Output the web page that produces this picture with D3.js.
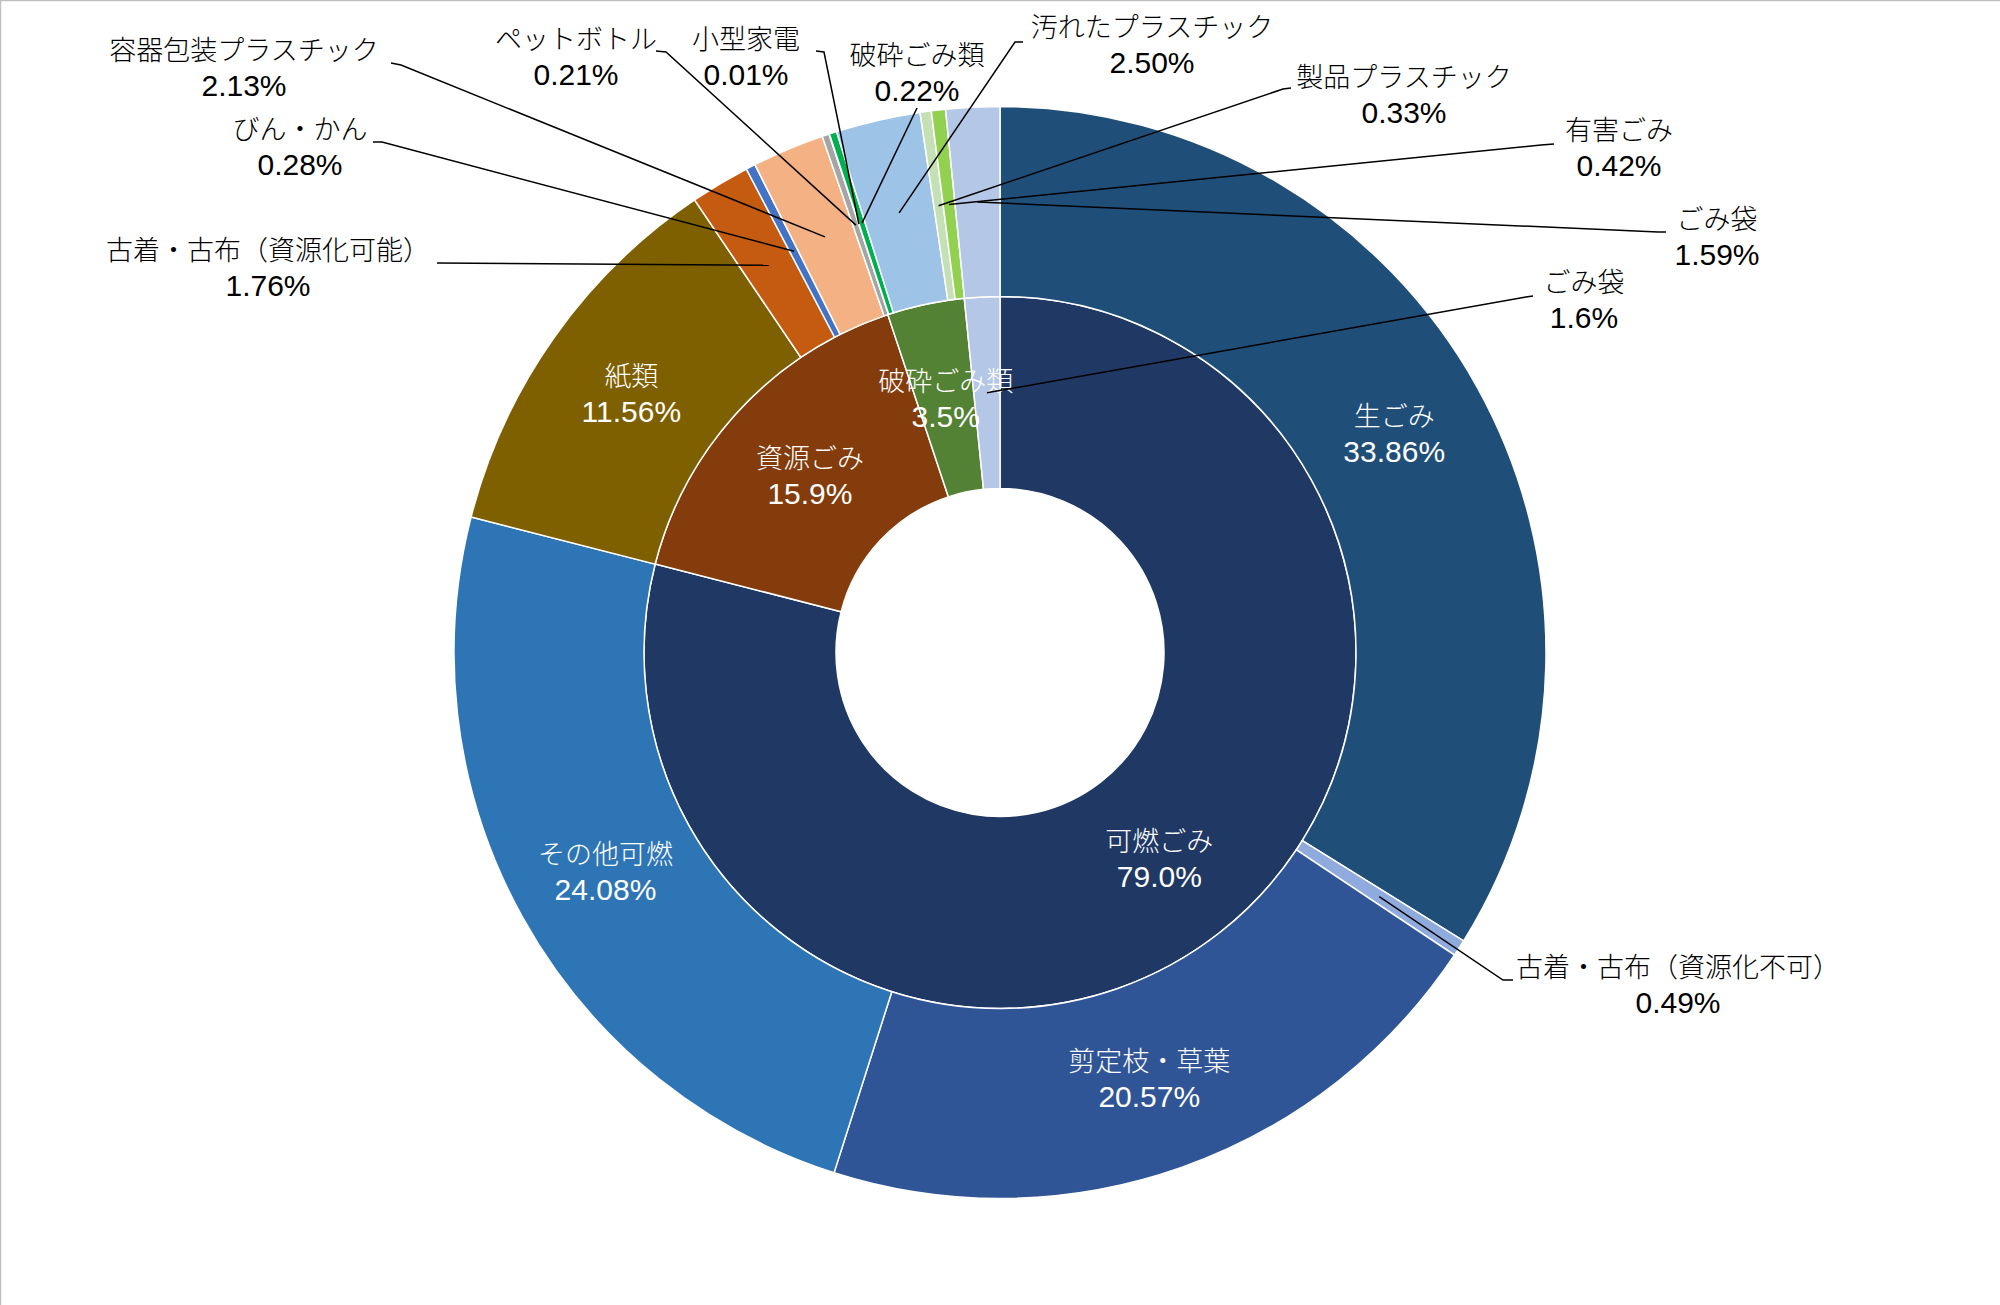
<!DOCTYPE html>
<html>
<head>
<meta charset="utf-8">
<script src="https://cdn.jsdelivr.net/npm/d3@7"></script>
<style>
  html, body { margin: 0; padding: 0; background: #fff; }
</style>
</head>
<body>
<svg width="2000" height="1305"></svg>
<script>
// inner ring (大分類)
var innerCategories = ["可燃ごみ", "資源ごみ", "破砕ごみ類", "ごみ袋"];
var innerValues = [79.0, 15.9, 3.5, 1.6];

// outer ring (内訳), clockwise from 12 o'clock
var outerCategories = [
  "生ごみ", "古着・古布（資源化不可）", "剪定枝・草葉", "その他可燃",
  "紙類", "古着・古布（資源化可能）", "びん・かん", "容器包装プラスチック",
  "ペットボトル", "小型家電",
  "破砕ごみ類", "汚れたプラスチック", "製品プラスチック", "有害ごみ",
  "ごみ袋"
];
var outerValues = [33.86, 0.49, 20.57, 24.08, 11.56, 1.76, 0.28, 2.13, 0.21, 0.01, 0.22, 2.50, 0.33, 0.42, 1.59];

var innerColors = ["#203864", "#843C0C", "#548235", "#B4C7E7"];
var outerColors = [
  "#1F4E79", "#8FAADC", "#2F5597", "#2E75B6",
  "#7F6000", "#C55A11", "#4472C4", "#F4B183",
  "#A5A5A5", "#FFC000",
  "#00B050", "#9DC3E6", "#C5E0B4", "#92D050",
  "#B4C7E7"
];

// labels drawn inside the ring (index lists)
var innerInside = [0, 1, 2];
var outerInside = [0, 2, 3, 4];

// outside labels: [ring, index, text x, first line y, leader start x, y, elbow x, y]
var outsideLabels = [
  ["outer", 7, 244, 48, 391, 63, 401, 65],
  ["outer", 6, 300, 127, 373, 142, 382, 142],
  ["outer", 5, 268, 248, 437, 263, 437, 263],
  ["outer", 8, 576, 37, 656, 51, 666, 52],
  ["outer", 9, 746, 37, 816, 51, 824, 52],
  ["outer", 10, 917, 53, 917, 108, 917, 108],
  ["outer", 11, 1152, 25, 1023, 42, 1015, 42],
  ["outer", 12, 1404, 75, 1291, 88, 1283, 89],
  ["outer", 13, 1619, 128, 1554, 144, 1541, 145],
  ["outer", 14, 1717, 217, 1666, 232, 1658, 232],
  ["inner", 3, 1584, 280, 1533, 296, 1526, 297],
  ["outer", 1, 1678, 965, 1513, 980, 1503, 980]
];

var svg = d3.select("svg"),
    cx = 1000, cy = 652.5,
    r0 = 164, r1 = 356, r2 = 546,
    lineGap = 37;

var jpFont = "'Noto Sans CJK JP', 'Noto Sans', sans-serif",
    numFont = "'Liberation Sans', Arial, sans-serif";

// frame edges
svg.append("line").attr("x1", 0).attr("x2", 2000).attr("y1", 0.5).attr("y2", 0.5)
    .attr("stroke", "#c0c0c0").attr("stroke-width", 1.5);
svg.append("line").attr("x1", 0.5).attr("x2", 0.5).attr("y1", 0).attr("y2", 1305)
    .attr("stroke", "#c0c0c0").attr("stroke-width", 1.5);

var g = svg.append("g").attr("transform", "translate(" + cx + "," + cy + ")");

var pie = d3.pie().sort(null).value(function(d) { return d; });
var innerArcs = pie(innerValues),
    outerArcs = pie(outerValues);

var innerArc = d3.arc().innerRadius(r0).outerRadius(r1),
    outerArc = d3.arc().innerRadius(r1).outerRadius(r2);

g.selectAll(".inner")
    .data(innerArcs)
    .enter()
    .append("path")
    .attr("class", "inner")
    .attr("d", innerArc)
    .attr("fill", function(d, i) { return innerColors[i]; })
    .attr("stroke", "#fff")
    .attr("stroke-width", 1.5);

g.selectAll(".outer")
    .data(outerArcs)
    .enter()
    .append("path")
    .attr("class", "outer")
    .attr("d", outerArc)
    .attr("fill", function(d, i) { return outerColors[i]; })
    .attr("stroke", "#fff")
    .attr("stroke-width", 1.5);

function pct(ring, i) {
  return ring == "inner" ? innerValues[i].toFixed(1) + "%" : outerValues[i].toFixed(2) + "%";
}

function twoLines(sel, x, y, name, num, color) {
  var t = sel.append("text")
      .attr("text-anchor", "middle")
      .attr("fill", color);
  t.append("tspan")
      .attr("x", x).attr("y", y)
      .attr("dominant-baseline", "central")
      .attr("font-family", jpFont)
      .attr("font-weight", 300)
      .attr("font-size", 27)
      .text(name);
  t.append("tspan")
      .attr("x", x).attr("y", y + lineGap)
      .attr("dominant-baseline", "central")
      .attr("font-family", numFont)
      .attr("font-size", 30)
      .text(num);
}

// labels inside the ring
innerInside.forEach(function(i) {
  var c = innerArc.centroid(innerArcs[i]);
  twoLines(g, c[0], c[1] - lineGap / 2, innerCategories[i], pct("inner", i), "#fff");
});
outerInside.forEach(function(i) {
  var c = outerArc.centroid(outerArcs[i]);
  twoLines(g, c[0], c[1] - lineGap / 2, outerCategories[i], pct("outer", i), "#fff");
});

// leader lines + outside labels
outsideLabels.forEach(function(l) {
  var ring = l[0], i = l[1];
  var c = ring == "inner" ? innerArc.centroid(innerArcs[i]) : outerArc.centroid(outerArcs[i]);
  var pts = [[l[4], l[5]], [l[6], l[7]], [c[0] + cx, c[1] + cy]];
  svg.append("path")
      .attr("d", d3.line()(pts))
      .attr("fill", "none")
      .attr("stroke", "#000")
      .attr("stroke-width", 1.5);
  var name = ring == "inner" ? innerCategories[i] : outerCategories[i];
  twoLines(svg, l[2], l[3], name, pct(ring, i), "#000");
});
</script>
</body>
</html>
